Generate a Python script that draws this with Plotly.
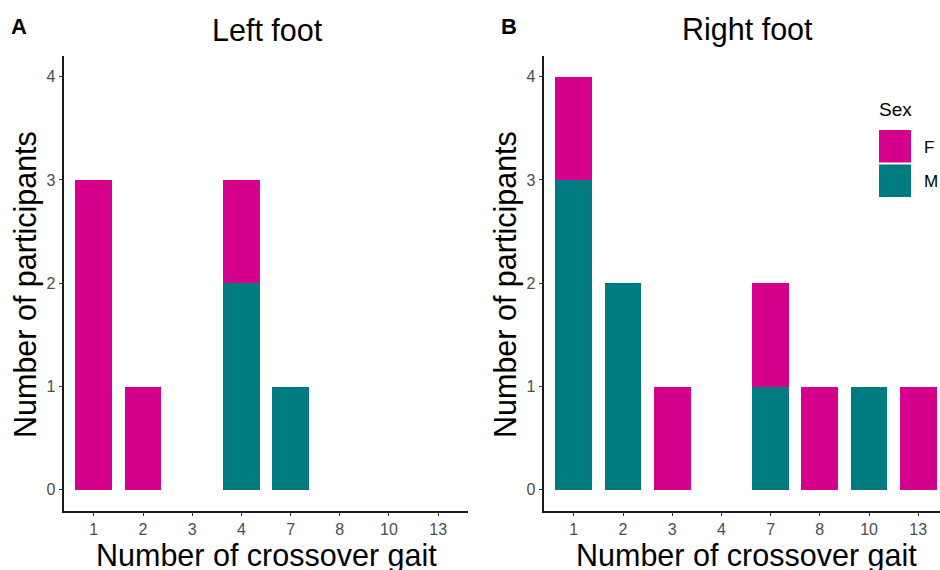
import plotly.graph_objects as go

categories = ["1", "2", "3", "4", "7", "8", "10", "13"]
left_F = [3, 1, 0, 1, 0, 0, 0, 0]
left_M = [0, 0, 0, 2, 1, 0, 0, 0]
right_F = [1, 0, 1, 0, 1, 1, 0, 1]
right_M = [3, 2, 0, 0, 1, 0, 1, 0]
y_ticks = [0, 1, 2, 3, 4]

COL_F = "#D5008C"
COL_M = "#007B80"
FONT = "Liberation Sans, Arial, sans-serif"
W, H = 940, 570

def px(x):
    return x / W

def py(y):
    return 1 - y / H

fig = go.Figure()
for xa, ya, m, f in [("x", "y", left_M, left_F), ("x2", "y2", right_M, right_F)]:
    fig.add_trace(go.Bar(x=categories, y=m, name="M", marker=dict(color=COL_M, line=dict(width=0)),
                         width=0.75, xaxis=xa, yaxis=ya, showlegend=False))
    fig.add_trace(go.Bar(x=categories, y=f, name="F", marker=dict(color=COL_F, line=dict(width=0)),
                         width=0.75, xaxis=xa, yaxis=ya, showlegend=False))

ydom = [py(510.5), py(56)]
axis_common = dict(showgrid=False, zeroline=False, showline=True, linecolor="#1a1a1a", linewidth=1.5,
                   ticks="outside", ticklen=4, tickwidth=1.2, tickcolor="#333333",
                   tickfont=dict(family=FONT, size=16, color="#4D4D4D"))
xa_common = dict(axis_common, type="category", categoryorder="array", categoryarray=categories)
ya_common = dict(axis_common, range=[-0.2, 4.2], tickvals=y_ticks, fixedrange=True)

fig.update_layout(
    width=W, height=H, barmode="stack", bargap=0.25,
    margin=dict(l=0, r=0, t=0, b=0),
    plot_bgcolor="white", paper_bgcolor="white",
    font=dict(family=FONT),
    xaxis=dict(xa_common, domain=[px(64.3), px(467.7)], range=[-0.6, 7.6], anchor="y"),
    yaxis=dict(ya_common, domain=ydom, anchor="x"),
    xaxis2=dict(xa_common, domain=[px(544.3), 1.0], range=[-0.6, (940 - 544.3) / 49.2 - 0.6], anchor="y2"),
    yaxis2=dict(ya_common, domain=ydom, anchor="x2"),
)

ann = [
    dict(text="<b>A</b>", x=px(19), y=py(26), font=dict(size=22, color="black", family=FONT)),
    dict(text="<b>B</b>", x=px(509), y=py(26), font=dict(size=22, color="black", family=FONT)),
    dict(text="Left foot", x=px(267), y=py(29.5), font=dict(size=30.5, color="black", family=FONT)),
    dict(text="Right foot", x=px(747), y=py(29.5), font=dict(size=30.5, color="black", family=FONT)),
    dict(text="Number of crossover gait", x=px(266), y=py(555), font=dict(size=30.5, color="black", family=FONT)),
    dict(text="Number of crossover gait", x=px(746.5), y=py(555), font=dict(size=30.5, color="black", family=FONT)),
    dict(text="Number of participants", x=px(25), y=py(285), textangle=-90, font=dict(size=30.5, color="black", family=FONT)),
    dict(text="Number of participants", x=px(505), y=py(285), textangle=-90, font=dict(size=30.5, color="black", family=FONT)),
    dict(text="Sex", x=px(877), y=py(110), xanchor="left", font=dict(size=19, color="black", family=FONT)),
    dict(text="F", x=px(922), y=py(147.5), xanchor="left", font=dict(size=17, color="black", family=FONT)),
    dict(text="M", x=px(922), y=py(181), xanchor="left", font=dict(size=17, color="black", family=FONT)),
]
for a in ann:
    a.setdefault("xanchor", "center")
    a.setdefault("yanchor", "middle")
    a.update(xref="paper", yref="paper", showarrow=False)
fig.update_layout(annotations=ann)

fig.update_layout(shapes=[
    dict(type="rect", xref="paper", yref="paper", x0=px(879), x1=px(911), y0=py(162.5), y1=py(130),
         fillcolor=COL_F, line=dict(width=0)),
    dict(type="rect", xref="paper", yref="paper", x0=px(879), x1=px(911), y0=py(197), y1=py(164.5),
         fillcolor=COL_M, line=dict(width=0)),
])

fig.write_html("out.html", config={"displayModeBar": False},
               post_script="document.body.style.margin='0px';document.body.style.overflow='hidden';")
